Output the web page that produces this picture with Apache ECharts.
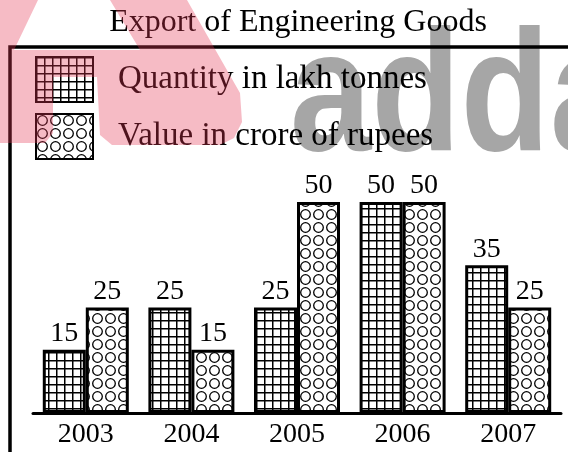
<!DOCTYPE html>
<html>
<head>
<meta charset="utf-8">
<script src="https://cdn.jsdelivr.net/npm/echarts@6/dist/echarts.min.js"></script>
<style>
  html, body { margin: 0; padding: 0; background: #fff; }
  #chart { width: 568px; height: 452px; }
</style>
</head>
<body>
<div id="chart"></div>
<script>
const years = ['2003', '2004', '2005', '2006', '2007'];
const quantity = [15, 25, 25, 50, 35];   // lakh tonnes
const value = [25, 15, 50, 50, 25];      // crore of rupees

// hatch patterns drawn on small canvases
function gridPattern() {
  const c = document.createElement('canvas');
  c.width = 8; c.height = 8;
  const ctx = c.getContext('2d');
  ctx.fillStyle = '#fff';
  ctx.fillRect(0, 0, 8, 8);
  ctx.fillStyle = '#000';
  ctx.fillRect(0, 0, 8, 1.5);
  ctx.fillRect(0, 0, 1.5, 8);
  return c;
}
function circlePattern() {
  const c = document.createElement('canvas');
  c.width = 13; c.height = 13;
  const ctx = c.getContext('2d');
  ctx.fillStyle = '#fff';
  ctx.fillRect(0, 0, 13, 13);
  ctx.strokeStyle = '#000';
  ctx.lineWidth = 1.3;
  ctx.beginPath();
  ctx.arc(6.5, 6.5, 4.8, 0, Math.PI * 2);
  ctx.stroke();
  return c;
}

const serif = '"Liberation Serif", "Times New Roman", serif';
const chart = echarts.init(document.getElementById('chart'));

chart.setOption({
  animation: false,
  backgroundColor: '#fff',
  title: {
    text: 'Export of Engineering Goods',
    left: 293, textAlign: 'center', top: 2,
    textStyle: { fontFamily: serif, fontWeight: 'normal', fontSize: 32, color: '#000' }
  },
  legend: {
    orient: 'vertical', left: 30, top: 51,
    icon: 'rect',
    itemWidth: 57, itemHeight: 45, itemGap: 10,
    textStyle: { fontFamily: serif, fontSize: 33, color: '#000', padding: [0, 0, 6, 20] },
    data: ['Quantity in lakh tonnes', 'Value in crore of rupees']
  },
  grid: { left: 33, right: 7, top: 202, bottom: 39 },
  xAxis: {
    type: 'category', data: years,
    axisLine: { lineStyle: { color: '#000', width: 3 } },
    axisTick: { show: false },
    axisLabel: { fontFamily: serif, fontSize: 28, color: '#000', margin: 8 }
  },
  yAxis: { type: 'value', min: 0, max: 50, show: false, splitLine: { show: false } },
  series: [
    {
      name: 'Quantity in lakh tonnes', type: 'bar', data: quantity,
      barWidth: 43, barGap: '0%',
      itemStyle: { color: { image: gridPattern(), repeat: 'repeat' }, borderColor: '#000', borderWidth: 3 },
      label: { show: true, position: 'top', distance: 2, fontFamily: serif, fontSize: 28, color: '#000' }
    },
    {
      name: 'Value in crore of rupees', type: 'bar', data: value,
      barWidth: 43, barGap: '0%',
      itemStyle: { color: { image: circlePattern(), repeat: 'repeat' }, borderColor: '#000', borderWidth: 3 },
      label: { show: true, position: 'top', distance: 2, fontFamily: serif, fontSize: 28, color: '#000' }
    }
  ],
  graphic: [
    // watermark text behind the chart
    {
      type: 'text', x: 290, y: 103, scaleX: 0.85, z: -10, silent: true,
      style: { text: 'adda', font: 'bold 172px "Liberation Sans", Arial, sans-serif',
               fill: '#a6a6a6', verticalAlign: 'middle' }
    },
    // frame round the plot
    {
      type: 'polyline', z: 50, silent: true,
      shape: { points: [[10, 460], [10, 47], [575, 47]] },
      style: { stroke: '#000', lineWidth: 3.5, fill: null }
    },
    // pink logo overlay
    {
      type: 'polygon', z: 100, silent: true,
      shape: { points: [[0, 0], [38, 0], [14, 50], [140, 50], [110, 0], [187, 0], [240, 93],
                        [242, 122], [234, 138], [220, 145], [112, 145], [100, 135], [97, 77],
                        [53, 77], [53, 133], [45, 143], [0, 143]] },
      style: { fill: 'rgba(230,55,85,0.34)' }
    }
  ]
});
</script>
</body>
</html>
